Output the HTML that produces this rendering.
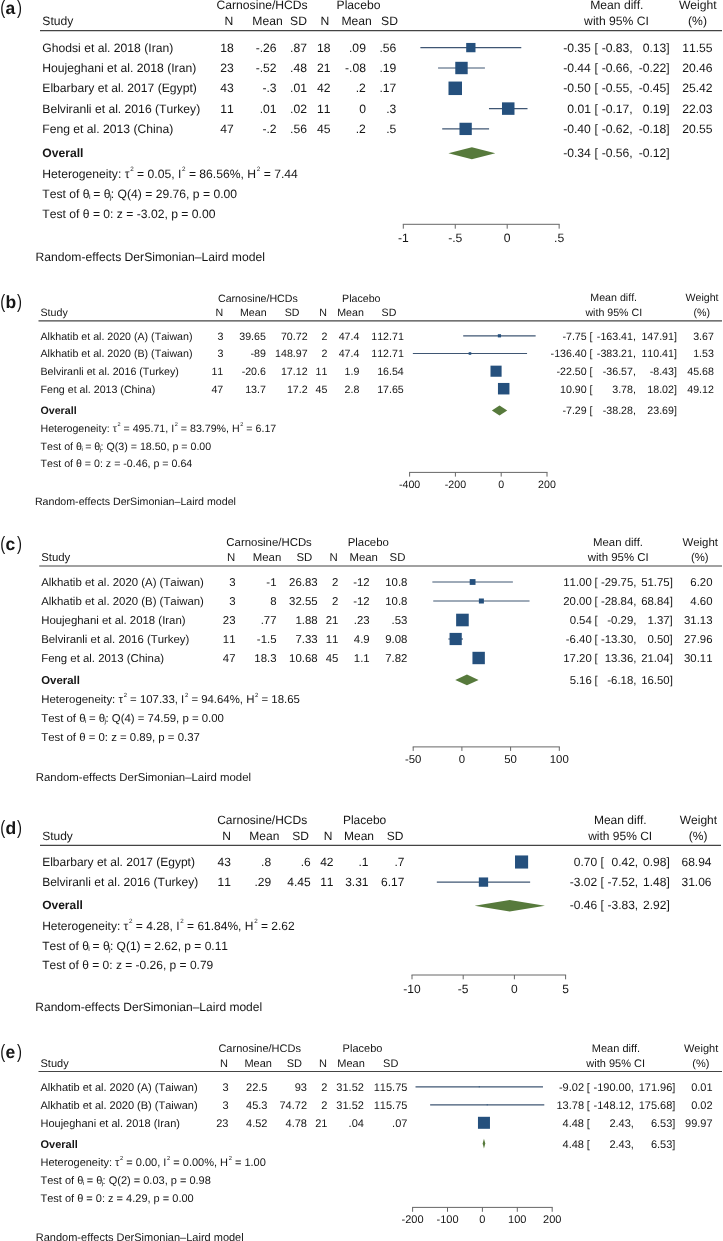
<!DOCTYPE html>
<html><head><meta charset="utf-8"><style>
html,body{margin:0;padding:0;background:#fff;overflow:hidden;width:723px;height:1241px;}
svg{display:block;will-change:transform;}
text{font-family:"Liberation Sans",sans-serif;fill:#151515;white-space:pre;font-kerning:none;text-rendering:geometricPrecision;}
</style></head><body>
<svg width="723" height="1241" viewBox="0 0 723 1241">
<text transform="translate(0.3,13.60) scale(0.78,1)" font-size="19.2">(</text>
<text x="5.6" y="13.60" font-size="17.5" font-weight="bold">a</text>
<text transform="translate(16.9,13.60) scale(0.78,1)" font-size="19.2">)</text>
<text x="262.10" y="8.50" font-size="12.15" text-anchor="middle">Carnosine/HCDs</text>
<text x="358.50" y="8.50" font-size="12.15" text-anchor="middle">Placebo</text>
<text x="616.80" y="8.50" font-size="12.15" text-anchor="middle">Mean diff.</text>
<text x="697.80" y="8.50" font-size="12.15" text-anchor="middle">Weight</text>
<text x="42.30" y="25.00" font-size="12.15">Study</text>
<text x="228.90" y="25.00" font-size="12.15" text-anchor="middle">N</text>
<text x="267.50" y="25.00" font-size="12.15" text-anchor="middle">Mean</text>
<text x="298.50" y="25.00" font-size="12.15" text-anchor="middle">SD</text>
<text x="324.80" y="25.00" font-size="12.15" text-anchor="middle">N</text>
<text x="356.70" y="25.00" font-size="12.15" text-anchor="middle">Mean</text>
<text x="389.50" y="25.00" font-size="12.15" text-anchor="middle">SD</text>
<text x="616.50" y="25.00" font-size="12.15" text-anchor="middle">with 95% CI</text>
<text x="697.50" y="25.00" font-size="12.15" text-anchor="middle">(%)</text>
<line x1="40.00" y1="30.60" x2="722.00" y2="30.60" stroke="#444" stroke-width="1.2"/>
<text x="42.30" y="51.70" font-size="12.15">Ghodsi et al. 2018 (Iran)</text>
<text x="233.70" y="51.70" font-size="12.15" text-anchor="end">18</text>
<text x="276.60" y="51.70" font-size="12.15" text-anchor="end">-.26</text>
<text x="307.00" y="51.70" font-size="12.15" text-anchor="end">.87</text>
<text x="330.50" y="51.70" font-size="12.15" text-anchor="end">18</text>
<text x="365.90" y="51.70" font-size="12.15" text-anchor="end">.09</text>
<text x="396.30" y="51.70" font-size="12.15" text-anchor="end">.56</text>
<text x="590.90" y="51.70" font-size="12.15" text-anchor="end">-0.35</text>
<text x="594.40" y="51.70" font-size="12.15">[</text>
<text x="632.70" y="51.70" font-size="12.15" text-anchor="end">-0.83,</text>
<text x="669.70" y="51.70" font-size="12.15" text-anchor="end">0.13]</text>
<text x="712.60" y="51.70" font-size="12.15" text-anchor="end">11.55</text>
<line x1="420.96" y1="47.60" x2="520.71" y2="47.60" stroke="#3f5673" stroke-width="1.15" stroke-linecap="square"/>
<rect x="466.19" y="42.95" width="9.30" height="9.30" fill="#25507d"/>
<text x="42.30" y="72.10" font-size="12.15">Houjeghani et al. 2018 (Iran)</text>
<text x="233.70" y="72.10" font-size="12.15" text-anchor="end">23</text>
<text x="276.60" y="72.10" font-size="12.15" text-anchor="end">-.52</text>
<text x="307.00" y="72.10" font-size="12.15" text-anchor="end">.48</text>
<text x="330.50" y="72.10" font-size="12.15" text-anchor="end">21</text>
<text x="365.90" y="72.10" font-size="12.15" text-anchor="end">-.08</text>
<text x="396.30" y="72.10" font-size="12.15" text-anchor="end">.19</text>
<text x="590.90" y="72.10" font-size="12.15" text-anchor="end">-0.44</text>
<text x="594.40" y="72.10" font-size="12.15">[</text>
<text x="632.70" y="72.10" font-size="12.15" text-anchor="end">-0.66,</text>
<text x="669.70" y="72.10" font-size="12.15" text-anchor="end">-0.22]</text>
<text x="712.60" y="72.10" font-size="12.15" text-anchor="end">20.46</text>
<line x1="438.63" y1="68.00" x2="484.34" y2="68.00" stroke="#3f5673" stroke-width="1.15" stroke-linecap="square"/>
<rect x="455.28" y="61.80" width="12.40" height="12.40" fill="#25507d"/>
<text x="42.30" y="92.40" font-size="12.15">Elbarbary et al. 2017 (Egypt)</text>
<text x="233.70" y="92.40" font-size="12.15" text-anchor="end">43</text>
<text x="276.60" y="92.40" font-size="12.15" text-anchor="end">-.3</text>
<text x="307.00" y="92.40" font-size="12.15" text-anchor="end">.01</text>
<text x="330.50" y="92.40" font-size="12.15" text-anchor="end">42</text>
<text x="365.90" y="92.40" font-size="12.15" text-anchor="end">.2</text>
<text x="396.30" y="92.40" font-size="12.15" text-anchor="end">.17</text>
<text x="590.90" y="92.40" font-size="12.15" text-anchor="end">-0.50</text>
<text x="594.40" y="92.40" font-size="12.15">[</text>
<text x="632.70" y="92.40" font-size="12.15" text-anchor="end">-0.55,</text>
<text x="669.70" y="92.40" font-size="12.15" text-anchor="end">-0.45]</text>
<text x="712.60" y="92.40" font-size="12.15" text-anchor="end">25.42</text>
<line x1="450.05" y1="88.30" x2="460.44" y2="88.30" stroke="#3f5673" stroke-width="1.15" stroke-linecap="square"/>
<rect x="448.50" y="81.55" width="13.50" height="13.50" fill="#25507d"/>
<text x="42.30" y="112.70" font-size="12.15">Belviranli et al. 2016 (Turkey)</text>
<text x="233.70" y="112.70" font-size="12.15" text-anchor="end">11</text>
<text x="276.60" y="112.70" font-size="12.15" text-anchor="end">.01</text>
<text x="307.00" y="112.70" font-size="12.15" text-anchor="end">.02</text>
<text x="330.50" y="112.70" font-size="12.15" text-anchor="end">11</text>
<text x="365.90" y="112.70" font-size="12.15" text-anchor="end">0</text>
<text x="396.30" y="112.70" font-size="12.15" text-anchor="end">.3</text>
<text x="590.90" y="112.70" font-size="12.15" text-anchor="end">0.01</text>
<text x="594.40" y="112.70" font-size="12.15">[</text>
<text x="632.70" y="112.70" font-size="12.15" text-anchor="end">-0.17,</text>
<text x="669.70" y="112.70" font-size="12.15" text-anchor="end">0.19]</text>
<text x="712.60" y="112.70" font-size="12.15" text-anchor="end">22.03</text>
<line x1="489.54" y1="108.60" x2="526.94" y2="108.60" stroke="#3f5673" stroke-width="1.15" stroke-linecap="square"/>
<rect x="501.99" y="102.35" width="12.50" height="12.50" fill="#25507d"/>
<text x="42.30" y="133.00" font-size="12.15">Feng et al. 2013 (China)</text>
<text x="233.70" y="133.00" font-size="12.15" text-anchor="end">47</text>
<text x="276.60" y="133.00" font-size="12.15" text-anchor="end">-.2</text>
<text x="307.00" y="133.00" font-size="12.15" text-anchor="end">.56</text>
<text x="330.50" y="133.00" font-size="12.15" text-anchor="end">45</text>
<text x="365.90" y="133.00" font-size="12.15" text-anchor="end">.2</text>
<text x="396.30" y="133.00" font-size="12.15" text-anchor="end">.5</text>
<text x="590.90" y="133.00" font-size="12.15" text-anchor="end">-0.40</text>
<text x="594.40" y="133.00" font-size="12.15">[</text>
<text x="632.70" y="133.00" font-size="12.15" text-anchor="end">-0.62,</text>
<text x="669.70" y="133.00" font-size="12.15" text-anchor="end">-0.18]</text>
<text x="712.60" y="133.00" font-size="12.15" text-anchor="end">20.55</text>
<line x1="442.78" y1="128.90" x2="488.50" y2="128.90" stroke="#3f5673" stroke-width="1.15" stroke-linecap="square"/>
<rect x="459.49" y="122.75" width="12.30" height="12.30" fill="#25507d"/>
<text x="42.30" y="157.40" font-size="12.15" font-weight="bold">Overall</text>
<text x="590.90" y="157.40" font-size="12.15" text-anchor="end">-0.34</text>
<text x="594.40" y="157.40" font-size="12.15">[</text>
<text x="632.70" y="157.40" font-size="12.15" text-anchor="end">-0.56,</text>
<text x="669.70" y="157.40" font-size="12.15" text-anchor="end">-0.12]</text>
<polygon points="448.42,153.30 471.87,147.30 495.33,153.30 471.87,159.30" fill="#577a3c"/>
<text x="42.30" y="177.60" font-size="12.15">Heterogeneity: τ<tspan font-size="6.32" dx="0.73" dy="-6.44">2</tspan><tspan dy="6.44"> = 0.05, I</tspan><tspan font-size="6.32" dx="0.73" dy="-6.44">2</tspan><tspan dy="6.44"> = 86.56%, H</tspan><tspan font-size="6.32" dx="0.73" dy="-6.44">2</tspan><tspan dy="6.44"> = 7.44</tspan></text>
<text x="42.30" y="198.00" font-size="12.15">Test of θ<tspan font-size="7.05" dx="-0.61" dy="0.97">i</tspan><tspan dx="-0.61" dy="-0.97"> = θ</tspan><tspan font-size="7.05" dx="-0.61" dy="0.97">j</tspan><tspan dx="-0.61" dy="-0.97">: Q(4) = 29.76, p = 0.00</tspan></text>
<text x="42.30" y="218.40" font-size="12.15">Test of θ = 0: z = -3.02, p = 0.00</text>
<line x1="402.80" y1="224.30" x2="559.65" y2="224.30" stroke="#666" stroke-width="1"/>
<line x1="403.30" y1="224.30" x2="403.30" y2="228.70" stroke="#666" stroke-width="1"/>
<text x="403.30" y="241.50" font-size="12.15" text-anchor="middle">-1</text>
<line x1="455.25" y1="224.30" x2="455.25" y2="228.70" stroke="#666" stroke-width="1"/>
<text x="455.25" y="241.50" font-size="12.15" text-anchor="middle">-.5</text>
<line x1="507.20" y1="224.30" x2="507.20" y2="228.70" stroke="#666" stroke-width="1"/>
<text x="507.20" y="241.50" font-size="12.15" text-anchor="middle">0</text>
<line x1="559.15" y1="224.30" x2="559.15" y2="228.70" stroke="#666" stroke-width="1"/>
<text x="559.15" y="241.50" font-size="12.15" text-anchor="middle">.5</text>
<text x="35.50" y="261.00" font-size="12.15">Random-effects DerSimonian–Laird model</text>
<text transform="translate(0.3,307.70) scale(0.78,1)" font-size="19.2">(</text>
<text x="5.6" y="307.70" font-size="17.5" font-weight="bold">b</text>
<text transform="translate(16.9,307.70) scale(0.78,1)" font-size="19.2">)</text>
<text x="257.90" y="301.80" font-size="10.65" text-anchor="middle">Carnosine/HCDs</text>
<text x="361.30" y="301.80" font-size="10.65" text-anchor="middle">Placebo</text>
<text x="613.70" y="301.30" font-size="10.65" text-anchor="middle">Mean diff.</text>
<text x="702.00" y="301.30" font-size="10.65" text-anchor="middle">Weight</text>
<text x="40.50" y="315.80" font-size="10.65">Study</text>
<text x="219.30" y="315.80" font-size="10.65" text-anchor="middle">N</text>
<text x="253.30" y="315.80" font-size="10.65" text-anchor="middle">Mean</text>
<text x="292.10" y="315.80" font-size="10.65" text-anchor="middle">SD</text>
<text x="323.00" y="315.80" font-size="10.65" text-anchor="middle">N</text>
<text x="350.50" y="315.80" font-size="10.65" text-anchor="middle">Mean</text>
<text x="389.00" y="315.80" font-size="10.65" text-anchor="middle">SD</text>
<text x="613.80" y="316.10" font-size="10.65" text-anchor="middle">with 95% CI</text>
<text x="701.70" y="316.10" font-size="10.65" text-anchor="middle">(%)</text>
<line x1="38.50" y1="320.90" x2="722.00" y2="320.90" stroke="#444" stroke-width="1.2"/>
<text x="40.50" y="339.60" font-size="10.65">Alkhatib et al. 2020 (A) (Taiwan)</text>
<text x="223.30" y="339.60" font-size="10.65" text-anchor="end">3</text>
<text x="265.90" y="339.60" font-size="10.65" text-anchor="end">39.65</text>
<text x="307.60" y="339.60" font-size="10.65" text-anchor="end">70.72</text>
<text x="327.40" y="339.60" font-size="10.65" text-anchor="end">2</text>
<text x="359.40" y="339.60" font-size="10.65" text-anchor="end">47.4</text>
<text x="403.80" y="339.60" font-size="10.65" text-anchor="end">112.71</text>
<text x="586.70" y="339.60" font-size="10.65" text-anchor="end">-7.75</text>
<text x="589.60" y="339.60" font-size="10.65">[</text>
<text x="635.90" y="339.60" font-size="10.65" text-anchor="end">-163.41,</text>
<text x="676.90" y="339.60" font-size="10.65" text-anchor="end">147.91]</text>
<text x="713.90" y="339.60" font-size="10.65" text-anchor="end">3.67</text>
<line x1="463.78" y1="335.80" x2="535.07" y2="335.80" stroke="#3f5673" stroke-width="1.15" stroke-linecap="square"/>
<rect x="497.83" y="334.20" width="3.20" height="3.20" fill="#25507d"/>
<text x="40.50" y="357.30" font-size="10.65">Alkhatib et al. 2020 (B) (Taiwan)</text>
<text x="223.30" y="357.30" font-size="10.65" text-anchor="end">3</text>
<text x="265.90" y="357.30" font-size="10.65" text-anchor="end">-89</text>
<text x="307.60" y="357.30" font-size="10.65" text-anchor="end">148.97</text>
<text x="327.40" y="357.30" font-size="10.65" text-anchor="end">2</text>
<text x="359.40" y="357.30" font-size="10.65" text-anchor="end">47.4</text>
<text x="403.80" y="357.30" font-size="10.65" text-anchor="end">112.71</text>
<text x="586.70" y="357.30" font-size="10.65" text-anchor="end">-136.40</text>
<text x="589.60" y="357.30" font-size="10.65">[</text>
<text x="635.90" y="357.30" font-size="10.65" text-anchor="end">-383.21,</text>
<text x="676.90" y="357.30" font-size="10.65" text-anchor="end">110.41]</text>
<text x="713.90" y="357.30" font-size="10.65" text-anchor="end">1.53</text>
<line x1="413.44" y1="353.50" x2="526.48" y2="353.50" stroke="#3f5673" stroke-width="1.15" stroke-linecap="square"/>
<rect x="468.66" y="352.20" width="2.60" height="2.60" fill="#25507d"/>
<text x="40.50" y="375.00" font-size="10.65">Belviranli et al. 2016 (Turkey)</text>
<text x="223.30" y="375.00" font-size="10.65" text-anchor="end">11</text>
<text x="265.90" y="375.00" font-size="10.65" text-anchor="end">-20.6</text>
<text x="307.60" y="375.00" font-size="10.65" text-anchor="end">17.12</text>
<text x="327.40" y="375.00" font-size="10.65" text-anchor="end">11</text>
<text x="359.40" y="375.00" font-size="10.65" text-anchor="end">1.9</text>
<text x="403.80" y="375.00" font-size="10.65" text-anchor="end">16.54</text>
<text x="586.70" y="375.00" font-size="10.65" text-anchor="end">-22.50</text>
<text x="589.60" y="375.00" font-size="10.65">[</text>
<text x="635.90" y="375.00" font-size="10.65" text-anchor="end">-36.57,</text>
<text x="676.90" y="375.00" font-size="10.65" text-anchor="end">-8.43]</text>
<text x="713.90" y="375.00" font-size="10.65" text-anchor="end">45.68</text>
<line x1="492.83" y1="371.20" x2="499.27" y2="371.20" stroke="#3f5673" stroke-width="1.15" stroke-linecap="square"/>
<rect x="490.50" y="365.65" width="11.10" height="11.10" fill="#25507d"/>
<text x="40.50" y="392.50" font-size="10.65">Feng et al. 2013 (China)</text>
<text x="223.30" y="392.50" font-size="10.65" text-anchor="end">47</text>
<text x="265.90" y="392.50" font-size="10.65" text-anchor="end">13.7</text>
<text x="307.60" y="392.50" font-size="10.65" text-anchor="end">17.2</text>
<text x="327.40" y="392.50" font-size="10.65" text-anchor="end">45</text>
<text x="359.40" y="392.50" font-size="10.65" text-anchor="end">2.8</text>
<text x="403.80" y="392.50" font-size="10.65" text-anchor="end">17.65</text>
<text x="586.70" y="392.50" font-size="10.65" text-anchor="end">10.90</text>
<text x="589.60" y="392.50" font-size="10.65">[</text>
<text x="635.90" y="392.50" font-size="10.65" text-anchor="end">3.78,</text>
<text x="676.90" y="392.50" font-size="10.65" text-anchor="end">18.02]</text>
<text x="713.90" y="392.50" font-size="10.65" text-anchor="end">49.12</text>
<line x1="502.07" y1="388.70" x2="505.33" y2="388.70" stroke="#3f5673" stroke-width="1.15" stroke-linecap="square"/>
<rect x="497.95" y="382.95" width="11.50" height="11.50" fill="#25507d"/>
<text x="40.50" y="414.20" font-size="10.65" font-weight="bold">Overall</text>
<text x="586.70" y="414.20" font-size="10.65" text-anchor="end">-7.29</text>
<text x="589.60" y="414.20" font-size="10.65">[</text>
<text x="635.90" y="414.20" font-size="10.65" text-anchor="end">-38.28,</text>
<text x="676.90" y="414.20" font-size="10.65" text-anchor="end">23.69]</text>
<polygon points="491.83,410.40 499.53,405.40 507.23,410.40 499.53,415.40" fill="#577a3c"/>
<text x="40.50" y="432.10" font-size="10.65">Heterogeneity: τ<tspan font-size="5.54" dx="0.64" dy="-5.64">2</tspan><tspan dy="5.64"> = 495.71, I</tspan><tspan font-size="5.54" dx="0.64" dy="-5.64">2</tspan><tspan dy="5.64"> = 83.79%, H</tspan><tspan font-size="5.54" dx="0.64" dy="-5.64">2</tspan><tspan dy="5.64"> = 6.17</tspan></text>
<text x="40.50" y="449.70" font-size="10.65">Test of θ<tspan font-size="6.18" dx="-0.53" dy="0.85">i</tspan><tspan dx="-0.53" dy="-0.85"> = θ</tspan><tspan font-size="6.18" dx="-0.53" dy="0.85">j</tspan><tspan dx="-0.53" dy="-0.85">: Q(3) = 18.50, p = 0.00</tspan></text>
<text x="40.50" y="467.00" font-size="10.65">Test of θ = 0: z = -0.46, p = 0.64</text>
<line x1="409.10" y1="472.40" x2="547.50" y2="472.40" stroke="#666" stroke-width="1"/>
<line x1="409.60" y1="472.40" x2="409.60" y2="476.60" stroke="#666" stroke-width="1"/>
<text x="409.60" y="487.70" font-size="10.65" text-anchor="middle">-400</text>
<line x1="455.40" y1="472.40" x2="455.40" y2="476.60" stroke="#666" stroke-width="1"/>
<text x="455.40" y="487.70" font-size="10.65" text-anchor="middle">-200</text>
<line x1="501.20" y1="472.40" x2="501.20" y2="476.60" stroke="#666" stroke-width="1"/>
<text x="501.20" y="487.70" font-size="10.65" text-anchor="middle">0</text>
<line x1="547.00" y1="472.40" x2="547.00" y2="476.60" stroke="#666" stroke-width="1"/>
<text x="547.00" y="487.70" font-size="10.65" text-anchor="middle">200</text>
<text x="34.90" y="504.50" font-size="10.65">Random-effects DerSimonian–Laird model</text>
<text transform="translate(0.3,550.30) scale(0.78,1)" font-size="19.2">(</text>
<text x="5.6" y="550.30" font-size="17.5" font-weight="bold">c</text>
<text transform="translate(16.9,550.30) scale(0.78,1)" font-size="19.2">)</text>
<text x="269.10" y="545.80" font-size="11.4" text-anchor="middle">Carnosine/HCDs</text>
<text x="368.30" y="545.80" font-size="11.4" text-anchor="middle">Placebo</text>
<text x="618.00" y="545.80" font-size="11.4" text-anchor="middle">Mean diff.</text>
<text x="700.20" y="545.80" font-size="11.4" text-anchor="middle">Weight</text>
<text x="41.20" y="560.60" font-size="11.4">Study</text>
<text x="231.00" y="560.60" font-size="11.4" text-anchor="middle">N</text>
<text x="267.00" y="560.60" font-size="11.4" text-anchor="middle">Mean</text>
<text x="304.30" y="560.60" font-size="11.4" text-anchor="middle">SD</text>
<text x="333.70" y="560.60" font-size="11.4" text-anchor="middle">N</text>
<text x="363.70" y="560.60" font-size="11.4" text-anchor="middle">Mean</text>
<text x="397.50" y="560.60" font-size="11.4" text-anchor="middle">SD</text>
<text x="618.20" y="560.60" font-size="11.4" text-anchor="middle">with 95% CI</text>
<text x="699.80" y="560.60" font-size="11.4" text-anchor="middle">(%)</text>
<line x1="39.20" y1="566.00" x2="722.00" y2="566.00" stroke="#444" stroke-width="1.2"/>
<text x="41.20" y="586.00" font-size="11.4">Alkhatib et al. 2020 (A) (Taiwan)</text>
<text x="235.50" y="586.00" font-size="11.4" text-anchor="end">3</text>
<text x="276.50" y="586.00" font-size="11.4" text-anchor="end">-1</text>
<text x="317.60" y="586.00" font-size="11.4" text-anchor="end">26.83</text>
<text x="338.30" y="586.00" font-size="11.4" text-anchor="end">2</text>
<text x="369.70" y="586.00" font-size="11.4" text-anchor="end">-12</text>
<text x="407.40" y="586.00" font-size="11.4" text-anchor="end">10.8</text>
<text x="591.80" y="586.00" font-size="11.4" text-anchor="end">11.00</text>
<text x="594.60" y="586.00" font-size="11.4">[</text>
<text x="636.40" y="586.00" font-size="11.4" text-anchor="end">-29.75,</text>
<text x="672.80" y="586.00" font-size="11.4" text-anchor="end">51.75]</text>
<text x="712.50" y="586.00" font-size="11.4" text-anchor="end">6.20</text>
<line x1="432.92" y1="582.00" x2="512.30" y2="582.00" stroke="#3f5673" stroke-width="1.15" stroke-linecap="square"/>
<rect x="469.71" y="579.10" width="5.80" height="5.80" fill="#25507d"/>
<text x="41.20" y="605.00" font-size="11.4">Alkhatib et al. 2020 (B) (Taiwan)</text>
<text x="235.50" y="605.00" font-size="11.4" text-anchor="end">3</text>
<text x="276.50" y="605.00" font-size="11.4" text-anchor="end">8</text>
<text x="317.60" y="605.00" font-size="11.4" text-anchor="end">32.55</text>
<text x="338.30" y="605.00" font-size="11.4" text-anchor="end">2</text>
<text x="369.70" y="605.00" font-size="11.4" text-anchor="end">-12</text>
<text x="407.40" y="605.00" font-size="11.4" text-anchor="end">10.8</text>
<text x="591.80" y="605.00" font-size="11.4" text-anchor="end">20.00</text>
<text x="594.60" y="605.00" font-size="11.4">[</text>
<text x="636.40" y="605.00" font-size="11.4" text-anchor="end">-28.84,</text>
<text x="672.80" y="605.00" font-size="11.4" text-anchor="end">68.84]</text>
<text x="712.50" y="605.00" font-size="11.4" text-anchor="end">4.60</text>
<line x1="433.81" y1="601.00" x2="528.95" y2="601.00" stroke="#3f5673" stroke-width="1.15" stroke-linecap="square"/>
<rect x="478.88" y="598.50" width="5.00" height="5.00" fill="#25507d"/>
<text x="41.20" y="624.00" font-size="11.4">Houjeghani et al. 2018 (Iran)</text>
<text x="235.50" y="624.00" font-size="11.4" text-anchor="end">23</text>
<text x="276.50" y="624.00" font-size="11.4" text-anchor="end">.77</text>
<text x="317.60" y="624.00" font-size="11.4" text-anchor="end">1.88</text>
<text x="338.30" y="624.00" font-size="11.4" text-anchor="end">21</text>
<text x="369.70" y="624.00" font-size="11.4" text-anchor="end">.23</text>
<text x="407.40" y="624.00" font-size="11.4" text-anchor="end">.53</text>
<text x="591.80" y="624.00" font-size="11.4" text-anchor="end">0.54</text>
<text x="594.60" y="624.00" font-size="11.4">[</text>
<text x="636.40" y="624.00" font-size="11.4" text-anchor="end">-0.29,</text>
<text x="672.80" y="624.00" font-size="11.4" text-anchor="end">1.37]</text>
<text x="712.50" y="624.00" font-size="11.4" text-anchor="end">31.13</text>
<line x1="461.62" y1="620.00" x2="463.23" y2="620.00" stroke="#3f5673" stroke-width="1.15" stroke-linecap="square"/>
<rect x="456.13" y="613.70" width="12.60" height="12.60" fill="#25507d"/>
<text x="41.20" y="643.00" font-size="11.4">Belviranli et al. 2016 (Turkey)</text>
<text x="235.50" y="643.00" font-size="11.4" text-anchor="end">11</text>
<text x="276.50" y="643.00" font-size="11.4" text-anchor="end">-1.5</text>
<text x="317.60" y="643.00" font-size="11.4" text-anchor="end">7.33</text>
<text x="338.30" y="643.00" font-size="11.4" text-anchor="end">11</text>
<text x="369.70" y="643.00" font-size="11.4" text-anchor="end">4.9</text>
<text x="407.40" y="643.00" font-size="11.4" text-anchor="end">9.08</text>
<text x="591.80" y="643.00" font-size="11.4" text-anchor="end">-6.40</text>
<text x="594.60" y="643.00" font-size="11.4">[</text>
<text x="636.40" y="643.00" font-size="11.4" text-anchor="end">-13.30,</text>
<text x="672.80" y="643.00" font-size="11.4" text-anchor="end">0.50]</text>
<text x="712.50" y="643.00" font-size="11.4" text-anchor="end">27.96</text>
<line x1="448.95" y1="639.00" x2="462.39" y2="639.00" stroke="#3f5673" stroke-width="1.15" stroke-linecap="square"/>
<rect x="449.57" y="632.90" width="12.20" height="12.20" fill="#25507d"/>
<text x="41.20" y="662.00" font-size="11.4">Feng et al. 2013 (China)</text>
<text x="235.50" y="662.00" font-size="11.4" text-anchor="end">47</text>
<text x="276.50" y="662.00" font-size="11.4" text-anchor="end">18.3</text>
<text x="317.60" y="662.00" font-size="11.4" text-anchor="end">10.68</text>
<text x="338.30" y="662.00" font-size="11.4" text-anchor="end">45</text>
<text x="369.70" y="662.00" font-size="11.4" text-anchor="end">1.1</text>
<text x="407.40" y="662.00" font-size="11.4" text-anchor="end">7.82</text>
<text x="591.80" y="662.00" font-size="11.4" text-anchor="end">17.20</text>
<text x="594.60" y="662.00" font-size="11.4">[</text>
<text x="636.40" y="662.00" font-size="11.4" text-anchor="end">13.36,</text>
<text x="672.80" y="662.00" font-size="11.4" text-anchor="end">21.04]</text>
<text x="712.50" y="662.00" font-size="11.4" text-anchor="end">30.11</text>
<line x1="474.91" y1="658.00" x2="482.39" y2="658.00" stroke="#3f5673" stroke-width="1.15" stroke-linecap="square"/>
<rect x="472.45" y="651.80" width="12.40" height="12.40" fill="#25507d"/>
<text x="41.20" y="683.90" font-size="11.4" font-weight="bold">Overall</text>
<text x="591.80" y="683.90" font-size="11.4" text-anchor="end">5.16</text>
<text x="594.60" y="683.90" font-size="11.4">[</text>
<text x="636.40" y="683.90" font-size="11.4" text-anchor="end">-6.18,</text>
<text x="672.80" y="683.90" font-size="11.4" text-anchor="end">16.50]</text>
<polygon points="455.28,679.90 466.93,674.60 478.57,679.90 466.93,685.20" fill="#577a3c"/>
<text x="41.20" y="703.20" font-size="11.4">Heterogeneity: τ<tspan font-size="5.93" dx="0.68" dy="-6.04">2</tspan><tspan dy="6.04"> = 107.33, I</tspan><tspan font-size="5.93" dx="0.68" dy="-6.04">2</tspan><tspan dy="6.04"> = 94.64%, H</tspan><tspan font-size="5.93" dx="0.68" dy="-6.04">2</tspan><tspan dy="6.04"> = 18.65</tspan></text>
<text x="41.20" y="722.20" font-size="11.4">Test of θ<tspan font-size="6.61" dx="-0.57" dy="0.91">i</tspan><tspan dx="-0.57" dy="-0.91"> = θ</tspan><tspan font-size="6.61" dx="-0.57" dy="0.91">j</tspan><tspan dx="-0.57" dy="-0.91">: Q(4) = 74.59, p = 0.00</tspan></text>
<text x="41.20" y="741.00" font-size="11.4">Test of θ = 0: z = 0.89, p = 0.37</text>
<line x1="412.70" y1="746.90" x2="559.80" y2="746.90" stroke="#666" stroke-width="1"/>
<line x1="413.20" y1="746.90" x2="413.20" y2="750.90" stroke="#666" stroke-width="1"/>
<text x="413.20" y="762.60" font-size="11.4" text-anchor="middle">-50</text>
<line x1="461.90" y1="746.90" x2="461.90" y2="750.90" stroke="#666" stroke-width="1"/>
<text x="461.90" y="762.60" font-size="11.4" text-anchor="middle">0</text>
<line x1="510.60" y1="746.90" x2="510.60" y2="750.90" stroke="#666" stroke-width="1"/>
<text x="510.60" y="762.60" font-size="11.4" text-anchor="middle">50</text>
<line x1="559.30" y1="746.90" x2="559.30" y2="750.90" stroke="#666" stroke-width="1"/>
<text x="559.30" y="762.60" font-size="11.4" text-anchor="middle">100</text>
<text x="35.80" y="780.70" font-size="11.4">Random-effects DerSimonian–Laird model</text>
<text transform="translate(0.3,833.90) scale(0.78,1)" font-size="19.2">(</text>
<text x="5.6" y="833.90" font-size="17.5" font-weight="bold">d</text>
<text transform="translate(16.9,833.90) scale(0.78,1)" font-size="19.2">)</text>
<text x="262.20" y="824.00" font-size="12" text-anchor="middle">Carnosine/HCDs</text>
<text x="364.60" y="824.00" font-size="12" text-anchor="middle">Placebo</text>
<text x="620.30" y="824.00" font-size="12" text-anchor="middle">Mean diff.</text>
<text x="698.40" y="824.00" font-size="12" text-anchor="middle">Weight</text>
<text x="42.20" y="840.00" font-size="12">Study</text>
<text x="226.60" y="840.00" font-size="12" text-anchor="middle">N</text>
<text x="264.30" y="840.00" font-size="12" text-anchor="middle">Mean</text>
<text x="300.70" y="840.00" font-size="12" text-anchor="middle">SD</text>
<text x="328.00" y="840.00" font-size="12" text-anchor="middle">N</text>
<text x="359.00" y="840.00" font-size="12" text-anchor="middle">Mean</text>
<text x="395.20" y="840.00" font-size="12" text-anchor="middle">SD</text>
<text x="620.20" y="840.00" font-size="12" text-anchor="middle">with 95% CI</text>
<text x="698.10" y="840.00" font-size="12" text-anchor="middle">(%)</text>
<line x1="40.00" y1="845.40" x2="721.00" y2="845.40" stroke="#444" stroke-width="1.2"/>
<text x="42.20" y="865.70" font-size="12">Elbarbary et al. 2017 (Egypt)</text>
<text x="230.90" y="865.70" font-size="12" text-anchor="end">43</text>
<text x="271.10" y="865.70" font-size="12" text-anchor="end">.8</text>
<text x="310.70" y="865.70" font-size="12" text-anchor="end">.6</text>
<text x="333.50" y="865.70" font-size="12" text-anchor="end">42</text>
<text x="368.50" y="865.70" font-size="12" text-anchor="end">.1</text>
<text x="404.40" y="865.70" font-size="12" text-anchor="end">.7</text>
<text x="597.20" y="865.70" font-size="12" text-anchor="end">0.70</text>
<text x="600.60" y="865.70" font-size="12">[</text>
<text x="638.20" y="865.70" font-size="12" text-anchor="end">0.42,</text>
<text x="669.80" y="865.70" font-size="12" text-anchor="end">0.98]</text>
<text x="711.50" y="865.70" font-size="12" text-anchor="end">68.94</text>
<line x1="518.70" y1="862.00" x2="524.44" y2="862.00" stroke="#3f5673" stroke-width="1.15" stroke-linecap="square"/>
<rect x="515.02" y="855.45" width="13.10" height="13.10" fill="#25507d"/>
<text x="42.20" y="885.80" font-size="12">Belviranli et al. 2016 (Turkey)</text>
<text x="230.90" y="885.80" font-size="12" text-anchor="end">11</text>
<text x="271.10" y="885.80" font-size="12" text-anchor="end">.29</text>
<text x="310.70" y="885.80" font-size="12" text-anchor="end">4.45</text>
<text x="333.50" y="885.80" font-size="12" text-anchor="end">11</text>
<text x="368.50" y="885.80" font-size="12" text-anchor="end">3.31</text>
<text x="404.40" y="885.80" font-size="12" text-anchor="end">6.17</text>
<text x="597.20" y="885.80" font-size="12" text-anchor="end">-3.02</text>
<text x="600.60" y="885.80" font-size="12">[</text>
<text x="638.20" y="885.80" font-size="12" text-anchor="end">-7.52,</text>
<text x="669.80" y="885.80" font-size="12" text-anchor="end">1.48]</text>
<text x="711.50" y="885.80" font-size="12" text-anchor="end">31.06</text>
<line x1="437.40" y1="882.10" x2="529.56" y2="882.10" stroke="#3f5673" stroke-width="1.15" stroke-linecap="square"/>
<rect x="478.83" y="877.45" width="9.30" height="9.30" fill="#25507d"/>
<text x="42.20" y="909.20" font-size="12" font-weight="bold">Overall</text>
<text x="597.20" y="909.20" font-size="12" text-anchor="end">-0.46</text>
<text x="600.60" y="909.20" font-size="12">[</text>
<text x="638.20" y="909.20" font-size="12" text-anchor="end">-3.83,</text>
<text x="669.80" y="909.20" font-size="12" text-anchor="end">2.92]</text>
<polygon points="474.58,905.70 509.69,900.00 544.90,905.70 509.69,911.40" fill="#577a3c"/>
<text x="42.20" y="929.60" font-size="12">Heterogeneity: τ<tspan font-size="6.24" dx="0.72" dy="-6.36">2</tspan><tspan dy="6.36"> = 4.28, I</tspan><tspan font-size="6.24" dx="0.72" dy="-6.36">2</tspan><tspan dy="6.36"> = 61.84%, H</tspan><tspan font-size="6.24" dx="0.72" dy="-6.36">2</tspan><tspan dy="6.36"> = 2.62</tspan></text>
<text x="42.20" y="949.90" font-size="12">Test of θ<tspan font-size="6.96" dx="-0.60" dy="0.96">i</tspan><tspan dx="-0.60" dy="-0.96"> = θ</tspan><tspan font-size="6.96" dx="-0.60" dy="0.96">j</tspan><tspan dx="-0.60" dy="-0.96">: Q(1) = 2.62, p = 0.11</tspan></text>
<text x="42.20" y="969.00" font-size="12">Test of θ = 0: z = -0.26, p = 0.79</text>
<line x1="411.50" y1="975.00" x2="566.10" y2="975.00" stroke="#666" stroke-width="1"/>
<line x1="412.00" y1="975.00" x2="412.00" y2="979.30" stroke="#666" stroke-width="1"/>
<text x="412.00" y="992.50" font-size="12" text-anchor="middle">-10</text>
<line x1="463.20" y1="975.00" x2="463.20" y2="979.30" stroke="#666" stroke-width="1"/>
<text x="463.20" y="992.50" font-size="12" text-anchor="middle">-5</text>
<line x1="514.40" y1="975.00" x2="514.40" y2="979.30" stroke="#666" stroke-width="1"/>
<text x="514.40" y="992.50" font-size="12" text-anchor="middle">0</text>
<line x1="565.60" y1="975.00" x2="565.60" y2="979.30" stroke="#666" stroke-width="1"/>
<text x="565.60" y="992.50" font-size="12" text-anchor="middle">5</text>
<text x="35.30" y="1010.70" font-size="12">Random-effects DerSimonian–Laird model</text>
<text transform="translate(0.3,1057.90) scale(0.78,1)" font-size="19.2">(</text>
<text x="5.6" y="1057.90" font-size="17.5" font-weight="bold">e</text>
<text transform="translate(16.9,1057.90) scale(0.78,1)" font-size="19.2">)</text>
<text x="259.70" y="1051.60" font-size="11" text-anchor="middle">Carnosine/HCDs</text>
<text x="362.50" y="1051.60" font-size="11" text-anchor="middle">Placebo</text>
<text x="616.00" y="1051.50" font-size="11" text-anchor="middle">Mean diff.</text>
<text x="701.10" y="1051.50" font-size="11" text-anchor="middle">Weight</text>
<text x="40.50" y="1066.60" font-size="11">Study</text>
<text x="224.00" y="1066.60" font-size="11" text-anchor="middle">N</text>
<text x="258.20" y="1066.60" font-size="11" text-anchor="middle">Mean</text>
<text x="294.30" y="1066.60" font-size="11" text-anchor="middle">SD</text>
<text x="323.00" y="1066.60" font-size="11" text-anchor="middle">N</text>
<text x="351.10" y="1066.60" font-size="11" text-anchor="middle">Mean</text>
<text x="390.70" y="1066.60" font-size="11" text-anchor="middle">SD</text>
<text x="615.70" y="1066.60" font-size="11" text-anchor="middle">with 95% CI</text>
<text x="700.80" y="1066.60" font-size="11" text-anchor="middle">(%)</text>
<line x1="38.50" y1="1071.50" x2="722.00" y2="1071.50" stroke="#444" stroke-width="1.2"/>
<text x="40.50" y="1091.00" font-size="11">Alkhatib et al. 2020 (A) (Taiwan)</text>
<text x="228.50" y="1091.00" font-size="11" text-anchor="end">3</text>
<text x="267.50" y="1091.00" font-size="11" text-anchor="end">22.5</text>
<text x="307.00" y="1091.00" font-size="11" text-anchor="end">93</text>
<text x="327.40" y="1091.00" font-size="11" text-anchor="end">2</text>
<text x="363.90" y="1091.00" font-size="11" text-anchor="end">31.52</text>
<text x="407.40" y="1091.00" font-size="11" text-anchor="end">115.75</text>
<text x="584.00" y="1091.00" font-size="11" text-anchor="end">-9.02</text>
<text x="586.80" y="1091.00" font-size="11">[</text>
<text x="633.90" y="1091.00" font-size="11" text-anchor="end">-190.00,</text>
<text x="675.40" y="1091.00" font-size="11" text-anchor="end">171.96]</text>
<text x="712.60" y="1091.00" font-size="11" text-anchor="end">0.01</text>
<line x1="416.09" y1="1086.80" x2="542.41" y2="1086.80" stroke="#3f5673" stroke-width="1.15" stroke-linecap="square"/>
<rect x="478.75" y="1086.30" width="1.00" height="1.00" fill="#25507d"/>
<text x="40.50" y="1109.00" font-size="11">Alkhatib et al. 2020 (B) (Taiwan)</text>
<text x="228.50" y="1109.00" font-size="11" text-anchor="end">3</text>
<text x="267.50" y="1109.00" font-size="11" text-anchor="end">45.3</text>
<text x="307.00" y="1109.00" font-size="11" text-anchor="end">74.72</text>
<text x="327.40" y="1109.00" font-size="11" text-anchor="end">2</text>
<text x="363.90" y="1109.00" font-size="11" text-anchor="end">31.52</text>
<text x="407.40" y="1109.00" font-size="11" text-anchor="end">115.75</text>
<text x="584.00" y="1109.00" font-size="11" text-anchor="end">13.78</text>
<text x="586.80" y="1109.00" font-size="11">[</text>
<text x="633.90" y="1109.00" font-size="11" text-anchor="end">-148.12,</text>
<text x="675.40" y="1109.00" font-size="11" text-anchor="end">175.68]</text>
<text x="712.60" y="1109.00" font-size="11" text-anchor="end">0.02</text>
<line x1="430.71" y1="1104.80" x2="543.71" y2="1104.80" stroke="#3f5673" stroke-width="1.15" stroke-linecap="square"/>
<rect x="486.71" y="1104.30" width="1.00" height="1.00" fill="#25507d"/>
<text x="40.50" y="1127.00" font-size="11">Houjeghani et al. 2018 (Iran)</text>
<text x="228.50" y="1127.00" font-size="11" text-anchor="end">23</text>
<text x="267.50" y="1127.00" font-size="11" text-anchor="end">4.52</text>
<text x="307.00" y="1127.00" font-size="11" text-anchor="end">4.78</text>
<text x="327.40" y="1127.00" font-size="11" text-anchor="end">21</text>
<text x="363.90" y="1127.00" font-size="11" text-anchor="end">.04</text>
<text x="407.40" y="1127.00" font-size="11" text-anchor="end">.07</text>
<text x="584.00" y="1127.00" font-size="11" text-anchor="end">4.48</text>
<text x="586.80" y="1127.00" font-size="11">[</text>
<text x="633.90" y="1127.00" font-size="11" text-anchor="end">2.43,</text>
<text x="675.40" y="1127.00" font-size="11" text-anchor="end">6.53]</text>
<text x="712.60" y="1127.00" font-size="11" text-anchor="end">99.97</text>
<line x1="483.25" y1="1122.80" x2="484.68" y2="1122.80" stroke="#3f5673" stroke-width="1.15" stroke-linecap="square"/>
<rect x="477.96" y="1116.80" width="12.00" height="12.00" fill="#25507d"/>
<text x="40.50" y="1147.80" font-size="11" font-weight="bold">Overall</text>
<text x="584.00" y="1147.80" font-size="11" text-anchor="end">4.48</text>
<text x="586.80" y="1147.80" font-size="11">[</text>
<text x="633.90" y="1147.80" font-size="11" text-anchor="end">2.43,</text>
<text x="675.40" y="1147.80" font-size="11" text-anchor="end">6.53]</text>
<polygon points="482.65,1143.60 483.96,1138.70 485.28,1143.60 483.96,1148.50" fill="#577a3c"/>
<text x="40.50" y="1166.10" font-size="11">Heterogeneity: τ<tspan font-size="5.72" dx="0.66" dy="-5.83">2</tspan><tspan dy="5.83"> = 0.00, I</tspan><tspan font-size="5.72" dx="0.66" dy="-5.83">2</tspan><tspan dy="5.83"> = 0.00%, H</tspan><tspan font-size="5.72" dx="0.66" dy="-5.83">2</tspan><tspan dy="5.83"> = 1.00</tspan></text>
<text x="40.50" y="1183.90" font-size="11">Test of θ<tspan font-size="6.38" dx="-0.55" dy="0.88">i</tspan><tspan dx="-0.55" dy="-0.88"> = θ</tspan><tspan font-size="6.38" dx="-0.55" dy="0.88">j</tspan><tspan dx="-0.55" dy="-0.88">: Q(2) = 0.03, p = 0.98</tspan></text>
<text x="40.50" y="1201.50" font-size="11">Test of θ = 0: z = 4.29, p = 0.00</text>
<line x1="412.10" y1="1207.40" x2="552.70" y2="1207.40" stroke="#666" stroke-width="1"/>
<line x1="412.60" y1="1207.40" x2="412.60" y2="1211.80" stroke="#666" stroke-width="1"/>
<text x="412.60" y="1222.70" font-size="11" text-anchor="middle">-200</text>
<line x1="447.50" y1="1207.40" x2="447.50" y2="1211.80" stroke="#666" stroke-width="1"/>
<text x="447.50" y="1222.70" font-size="11" text-anchor="middle">-100</text>
<line x1="482.40" y1="1207.40" x2="482.40" y2="1211.80" stroke="#666" stroke-width="1"/>
<text x="482.40" y="1222.70" font-size="11" text-anchor="middle">0</text>
<line x1="517.30" y1="1207.40" x2="517.30" y2="1211.80" stroke="#666" stroke-width="1"/>
<text x="517.30" y="1222.70" font-size="11" text-anchor="middle">100</text>
<line x1="552.20" y1="1207.40" x2="552.20" y2="1211.80" stroke="#666" stroke-width="1"/>
<text x="552.20" y="1222.70" font-size="11" text-anchor="middle">200</text>
<text x="35.80" y="1241.00" font-size="11">Random-effects DerSimonian–Laird model</text>
</svg>
</body></html>
